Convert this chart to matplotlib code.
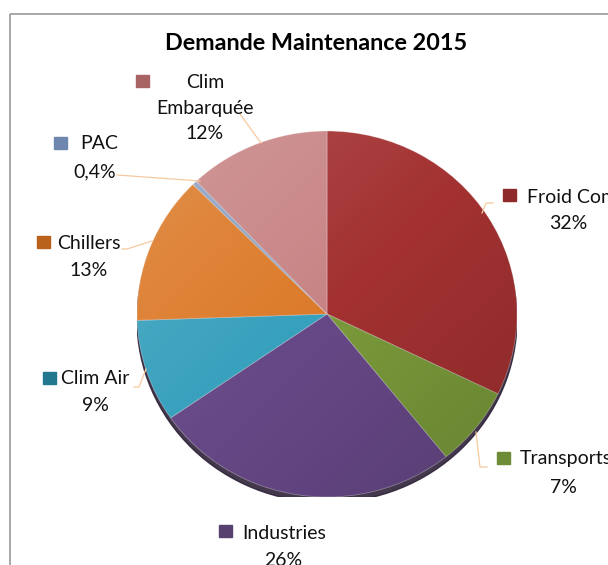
import matplotlib
matplotlib.use("Agg")
import numpy as np
import matplotlib.pyplot as plt
from matplotlib.patches import Rectangle, Ellipse

plt.rcParams['font.family'] = ['Lato', 'DejaVu Sans']

# data
labels = ['Froid Com', 'Transports', 'Industries', 'Clim Air', 'Chillers', 'PAC', 'Clim\nEmbarquée']
values = [32, 7, 26, 9, 13, 0.4, 12]
pct_text = ['32%', '7%', '26%', '9%', '13%', '0,4%', '12%']
title = 'Demande Maintenance 2015'

slice_colors = ['#A33131', '#7A9A3A', '#674887', '#36A0BD', '#DC7A29', '#8EA2C2', '#C88485']
key_colors = ['#8E2A2A', '#6E8B35', '#574171', '#21788F', '#B8621B', '#6F87AE', '#A86464']

W, H = 608, 565
fig = plt.figure(figsize=(W / 100, H / 100), dpi=100)

# pie drawn in its own axes, slightly squashed like the excel 3d pie
cx, cy, rx, ry = 327, 314, 190, 183
pax = fig.add_axes([(cx - rx) / W, (H - cy - ry) / H, 2 * rx / W, 2 * ry / H])
pax.add_patch(Ellipse((0, -0.03), 2.0, 2.0, color='#2e2238', alpha=0.9, zorder=0))
wedges, _ = pax.pie(values, colors=slice_colors, startangle=90, counterclock=False,
                    wedgeprops=dict(linewidth=0.6, edgecolor=(1, 1, 1, 0.35)))
# soft light->dark shading over the disc (excel gradient look)
gx, gy = np.meshgrid(np.linspace(-1, 1, 200), np.linspace(1, -1, 200))
shade = np.zeros((200, 200, 4))
t = (gx - gy) / 2.0
shade[..., :3] = np.where(t[..., None] < 0, 1.0, 0.0)
shade[..., 3] = np.clip(np.abs(t) * 0.16, 0, 0.16)
disc = Ellipse((0, 0), 2.0, 2.0, transform=pax.transData)
im = pax.imshow(shade, extent=(-1, 1, -1, 1), zorder=3, aspect='auto')
im.set_clip_path(disc)
pax.set_aspect('auto')
pax.set_xlim(-1, 1)
pax.set_ylim(-1, 1)
pax.axis('off')

# overlay in pixel coords for labels / frame
ax = fig.add_axes([0, 0, 1, 1], zorder=5)
ax.set_xlim(0, W)
ax.set_ylim(H, 0)
ax.axis('off')

ax.add_patch(Rectangle((9.5, 13.5), 700, 700, fill=False, edgecolor='#9a9a9a', lw=1.2))
ax.text(316, 50, title, ha='center', va='baseline', fontsize=16.8, fontweight='bold')

# label layout: key square (x, yc), name (x, baseline, ha), pct (x, baseline)
layout = [
    ((503, 195), (527, 203, 'left'), (568, 229)),
    ((497, 458), (520, 464, 'left'), (563, 493)),
    ((219, 531), (242, 539, 'left'), (283, 566)),
    ((43, 378), (61, 384, 'left'), (95, 411)),
    ((37, 242), (57, 249, 'left'), (89, 276)),
    ((54, 143), (80, 149, 'left'), (95, 177)),
    ((136, 81), (205, 88, 'center'), (205, 139)),
]
leaders = [
    [(493, 203), (486, 203), (482, 213)],
    [(476, 432), (480, 467), (487, 467)],
    [],
    [(134, 387), (139, 387), (146, 369)],
    [(122, 249), (127, 249), (152, 241)],
    [(117, 175), (200, 181)],
    [(240, 114), (261, 143)],
]

fs = 14
for i in range(len(labels)):
    (sx, sy), (nx, ny, nha), (px, py) = layout[i]
    ax.add_patch(Rectangle((sx, sy - 6.5), 12.5, 12.5, color=key_colors[i]))
    name_lines = labels[i].split('\n')
    for j, line in enumerate(name_lines):
        ax.text(nx, ny + j * 26, line, ha=nha, va='baseline', fontsize=fs, color='#111111')
    ax.text(px, py, pct_text[i], ha='center', va='baseline', fontsize=fs, color='#111111')
    if leaders[i]:
        xs, ys = zip(*leaders[i])
        ax.plot(xs, ys, color='#F7C9A0', lw=0.9)

fig.savefig('out.png', dpi=100)
